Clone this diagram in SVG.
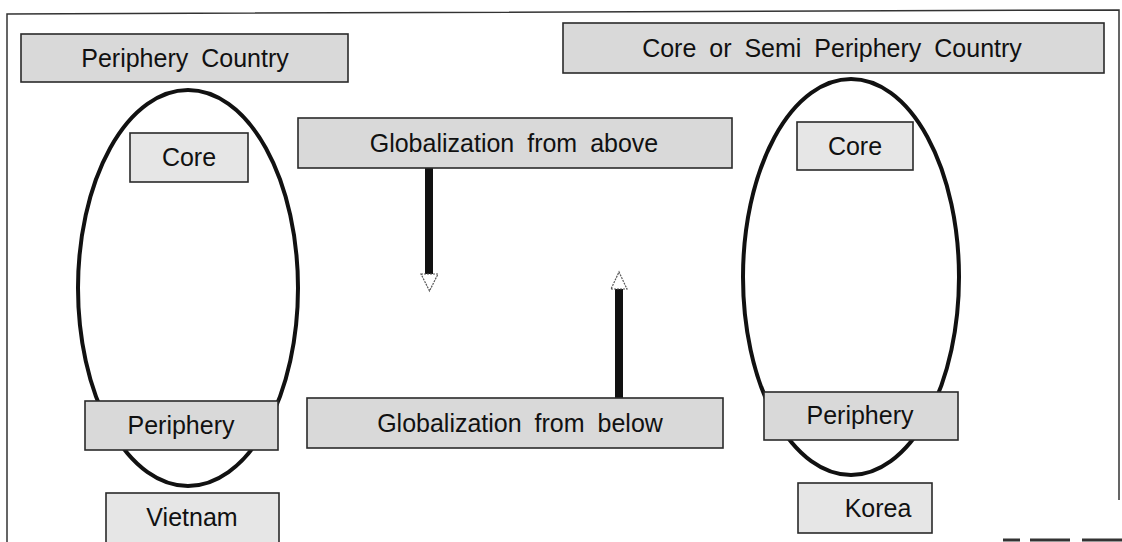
<svg xmlns="http://www.w3.org/2000/svg" width="1122" height="542" viewBox="0 0 1122 542">
  <style>
    .box { fill: #d9d9d9; stroke: #2a2a2a; stroke-width: 1.6; }
    .light { fill: #e6e6e6; }
    .lbl { font-family: "Liberation Sans", Arial, sans-serif; font-size: 25px; fill: #111; text-anchor: middle; word-spacing: 6px; }
    .oval { fill: none; stroke: #111; stroke-width: 4; }
    .frame { fill: none; stroke: #333; stroke-width: 1.5; }
    .shaft { stroke: #111; stroke-width: 8; fill: none; }
    .head { fill: #fff; stroke: #555; stroke-width: 1.2; stroke-dasharray: 2 1; }
  </style>

  <rect x="0" y="0" width="1122" height="542" fill="#fff"/>

  <g id="frame">
    <path class="frame" d="M7,545 L7,14 L1119,10 L1119,500"/>
    <path d="M1003,540 H1020 M1030,540 H1070 M1082,540 H1122" stroke="#333" stroke-width="3" fill="none"/>
  </g>

  <g id="ovals">
    <ellipse id="oval-vietnam" class="oval" cx="188" cy="288" rx="110" ry="198"/>
    <ellipse id="oval-korea" class="oval" cx="851" cy="277" rx="108" ry="198"/>
  </g>

  <g id="connectors">
    <g id="edge-above">
      <line class="shaft" x1="429" y1="168" x2="429" y2="274"/>
      <polygon class="head" points="421,274 438,274 429.5,291"/>
    </g>
    <g id="edge-below">
      <line class="shaft" x1="619" y1="398" x2="619" y2="289"/>
      <polygon class="head" points="611,289 627,289 619,272"/>
    </g>
  </g>

  <g id="node-periphery-country">
    <rect class="box" x="21" y="34" width="327" height="48"/>
    <text class="lbl" x="185" y="67">Periphery Country</text>
  </g>

  <g id="node-core-semi-country">
    <rect class="box" x="563" y="23" width="541" height="50"/>
    <text class="lbl" x="832" y="57">Core or Semi Periphery Country</text>
  </g>

  <g id="node-core-left">
    <rect class="box light" x="130" y="133" width="118" height="49"/>
    <text class="lbl" x="189" y="166">Core</text>
  </g>

  <g id="node-core-right">
    <rect class="box light" x="797" y="122" width="116" height="48"/>
    <text class="lbl" x="855" y="155">Core</text>
  </g>

  <g id="node-glob-above">
    <rect class="box" x="298" y="118" width="434" height="50"/>
    <text class="lbl" x="514" y="152">Globalization from above</text>
  </g>

  <g id="node-glob-below">
    <rect class="box" x="307" y="398" width="416" height="50"/>
    <text class="lbl" x="520" y="432">Globalization from below</text>
  </g>

  <g id="node-periphery-left">
    <rect class="box" x="85" y="401" width="193" height="49"/>
    <text class="lbl" x="181" y="434">Periphery</text>
  </g>

  <g id="node-periphery-right">
    <rect class="box" x="764" y="392" width="194" height="48"/>
    <text class="lbl" x="860" y="424">Periphery</text>
  </g>

  <g id="node-vietnam">
    <rect class="box light" x="106" y="493" width="173" height="55"/>
    <text class="lbl" x="192" y="526">Vietnam</text>
  </g>

  <g id="node-korea">
    <rect class="box light" x="798" y="483" width="134" height="50"/>
    <text class="lbl" x="878" y="517">Korea</text>
  </g>
</svg>
